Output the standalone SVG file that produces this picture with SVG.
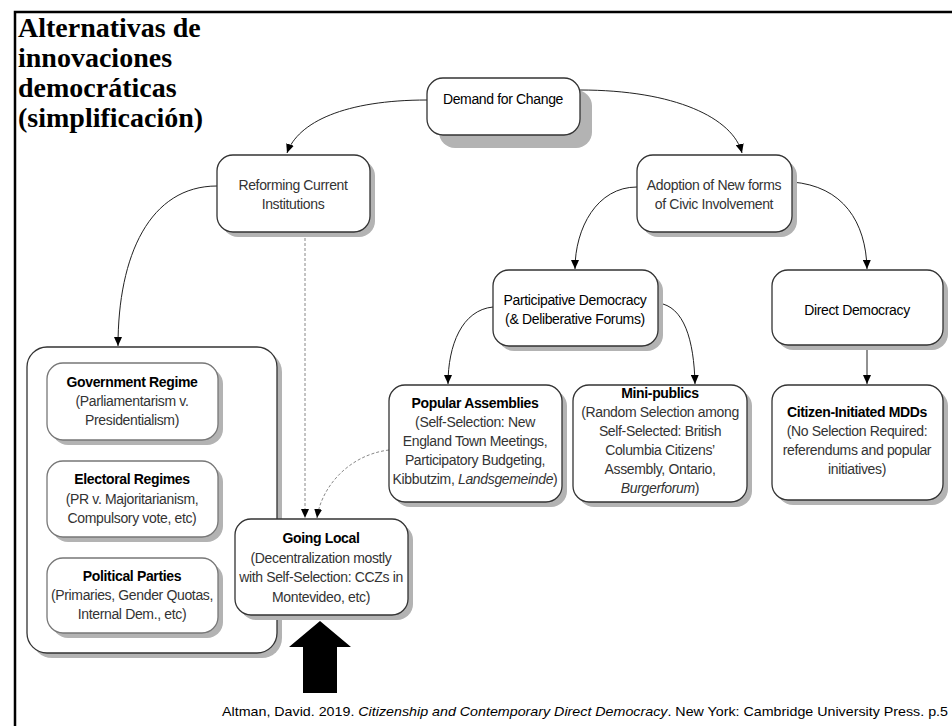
<svg xmlns="http://www.w3.org/2000/svg" width="952" height="726" viewBox="0 0 952 726">
<style>
.box{fill:#fff;stroke:#333;stroke-width:1.3}
.ibox{fill:#fff;stroke:#777;stroke-width:1.3}
.sh{fill:#b3b3b3}
.t{font-family:"Liberation Sans",Arial,sans-serif;font-size:14px;letter-spacing:-0.35px;text-anchor:middle;fill:#000}
.lt{fill:#333}
.b{font-weight:bold}
.con{fill:none;stroke:#222;stroke-width:1}
.dash{fill:none;stroke:#888;stroke-width:1;stroke-dasharray:3 2}
.title{font-family:"Liberation Serif","Times New Roman",serif;font-size:28px;font-weight:bold;fill:#000}
.cite{font-family:"Liberation Sans",Arial,sans-serif;font-size:13px;fill:#000}
</style>
<defs>
<marker id="ah" markerWidth="9" markerHeight="8" refX="9" refY="4" orient="auto" markerUnits="userSpaceOnUse">
<path d="M0,0 L9,4 L0,8 z" fill="#000"/>
</marker>
</defs>
<rect width="952" height="726" fill="#fff"/>
<path d="M15,726 L15,12 L952,12" fill="none" stroke="#000" stroke-width="2.5"/>
<g id="title">
<text class="title" x="18" y="37">Alternativas de</text>
<text class="title" x="18" y="67">innovaciones</text>
<text class="title" x="18" y="97">democráticas</text>
<text class="title" x="18" y="127">(simplificación)</text>
</g>
<g id="connectors">
<path class="con" d="M427,100 C345,100 298,122 287,153" marker-end="url(#ah)"/>
<path class="con" d="M580,90 C675,90 733,118 742,153" marker-end="url(#ah)"/>
<path class="con" d="M217,186 C150,186 118,255 118,346" marker-end="url(#ah)"/>
<path class="dash" d="M305,233 L305,518" marker-end="url(#ah)"/>
<path class="dash" d="M389,450 C348,455 321,488 317,518" marker-end="url(#ah)"/>
<path class="con" d="M637,187 C597,187 575,228 575,269" marker-end="url(#ah)"/>
<path class="con" d="M792,182 C843,186 866,222 867,269" marker-end="url(#ah)"/>
<path class="con" d="M493,307 C462,310 448,345 448,384" marker-end="url(#ah)"/>
<path class="con" d="M658,303 C684,306 694,340 695,384" marker-end="url(#ah)"/>
<path class="con" d="M867,346 L867,384" marker-end="url(#ah)"/>
</g>
<g id="demand">
<rect class="sh" x="439" y="90" width="153" height="58" rx="16"/>
<rect class="box" x="427" y="78" width="153" height="57" rx="16"/>
<text class="t" x="503" y="104">Demand for Change</text>
</g>
<g id="reforming">
<rect class="sh" x="222" y="160" width="153" height="77" rx="16"/>
<rect class="box" x="217" y="155" width="153" height="77" rx="16"/>
<text class="t lt" x="293" y="190">Reforming Current</text>
<text class="t lt" x="293" y="209">Institutions</text>
</g>
<g id="adoption">
<rect class="sh" x="642" y="160" width="155" height="77" rx="16"/>
<rect class="box" x="637" y="155" width="155" height="77" rx="16"/>
<text class="t lt" x="714" y="190">Adoption of New forms</text>
<text class="t lt" x="714" y="209">of Civic Involvement</text>
</g>
<g id="participative">
<rect class="sh" x="498" y="275" width="165" height="76" rx="16"/>
<rect class="box" x="493" y="270" width="165" height="76" rx="16"/>
<text class="t" x="575" y="305">Participative Democracy</text>
<text class="t" x="575" y="324">(&amp; Deliberative Forums)</text>
</g>
<g id="direct">
<rect class="sh" x="777" y="275" width="171" height="75" rx="16"/>
<rect class="box" x="772" y="270" width="171" height="75" rx="16"/>
<text class="t" x="857" y="315">Direct Democracy</text>
</g>
<g id="container">
<rect class="sh" x="32" y="352" width="250" height="306" rx="20"/>
<rect class="box" x="27" y="347" width="250" height="306" rx="20"/>
</g>
<g id="government">
<rect class="sh" x="52" y="368" width="171" height="77" rx="16"/>
<rect class="ibox" x="47" y="363" width="171" height="77" rx="16"/>
<text class="t b" x="132" y="387">Government Regime</text>
<text class="t lt" x="132" y="406">(Parliamentarism v.</text>
<text class="t lt" x="132" y="425">Presidentialism)</text>
</g>
<g id="electoral">
<rect class="sh" x="52" y="466" width="171" height="76" rx="16"/>
<rect class="ibox" x="47" y="461" width="171" height="76" rx="16"/>
<text class="t b" x="132" y="484">Electoral Regimes</text>
<text class="t lt" x="132" y="504">(PR v. Majoritarianism,</text>
<text class="t lt" x="132" y="523">Compulsory vote, etc)</text>
</g>
<g id="parties">
<rect class="sh" x="52" y="563" width="171" height="75" rx="16"/>
<rect class="ibox" x="47" y="558" width="171" height="75" rx="16"/>
<text class="t b" x="132" y="581">Political Parties</text>
<text class="t lt" x="132" y="600">(Primaries, Gender Quotas,</text>
<text class="t lt" x="132" y="619">Internal Dem., etc)</text>
</g>
<g id="popular">
<rect class="sh" x="394" y="390" width="173" height="117" rx="16"/>
<rect class="box" x="389" y="385" width="173" height="117" rx="16"/>
<text class="t b" x="475" y="408">Popular Assemblies</text>
<text class="t lt" x="475" y="427">(Self-Selection: New</text>
<text class="t lt" x="475" y="446">England Town Meetings,</text>
<text class="t lt" x="475" y="465">Participatory Budgeting,</text>
<text class="t lt" x="475" y="484">Kibbutzim, <tspan font-style="italic">Landsgemeinde</tspan>)</text>
</g>
<g id="minipublics">
<rect class="sh" x="578" y="390" width="174" height="117" rx="16"/>
<rect class="box" x="573" y="385" width="174" height="117" rx="16"/>
<text class="t b" x="660" y="398">Mini-publics</text>
<text class="t lt" x="660" y="417">(Random Selection among</text>
<text class="t lt" x="660" y="436">Self-Selected: British</text>
<text class="t lt" x="660" y="455">Columbia Citizens’</text>
<text class="t lt" x="660" y="474">Assembly, Ontario,</text>
<text class="t lt" x="660" y="493"><tspan font-style="italic">Burgerforum</tspan>)</text>
</g>
<g id="citizen">
<rect class="sh" x="777" y="390" width="171" height="115" rx="16"/>
<rect class="box" x="772" y="385" width="171" height="115" rx="16"/>
<text class="t b" x="857" y="417">Citizen-Initiated MDDs</text>
<text class="t lt" x="857" y="436">(No Selection Required:</text>
<text class="t lt" x="857" y="455">referendums and popular</text>
<text class="t lt" x="857" y="474">initiatives)</text>
</g>
<g id="goinglocal">
<rect class="sh" x="240" y="524" width="173" height="96" rx="16"/>
<rect class="box" x="235" y="519" width="173" height="96" rx="16"/>
<text class="t b" x="321" y="543">Going Local</text>
<text class="t lt" x="321" y="563">(Decentralization mostly</text>
<text class="t lt" x="321" y="582">with Self-Selection: CCZs in</text>
<text class="t lt" x="321" y="602">Montevideo, etc)</text>
</g>
<g id="bigarrow">
<path d="M320,621 L351,647 L337,647 L337,693 L303,693 L303,647 L289,647 Z" fill="#000"/>
</g>
<g id="citation">
<text class="cite" x="222" y="716" textLength="726" lengthAdjust="spacingAndGlyphs">Altman, David. 2019. <tspan font-style="italic">Citizenship and Contemporary Direct Democracy</tspan>. New York: Cambridge University Press. p.5</text>
</g>
</svg>
